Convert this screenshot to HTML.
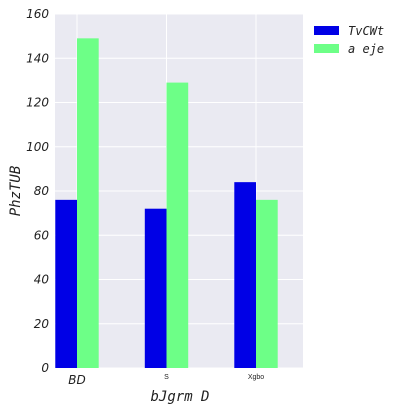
<!DOCTYPE html>
<html><head><meta charset="utf-8"><style>
body{margin:0;background:#fff}
svg{display:block}
.tk{font-family:"DejaVu Sans",sans-serif;font-style:italic;font-size:12px;fill:#222}
.mono{font-family:"DejaVu Sans Mono","Liberation Mono",monospace;font-style:italic;fill:#222}
</style></head><body>
<svg id="c" width="413" height="413">
<rect x="55" y="14" width="248" height="354" fill="#eaeaf2"/>
<g id="grid"></g><g id="bars"></g><g id="ticks"></g>
<text class="mono" x="180" y="401" font-size="14" text-anchor="middle">bJgrm D</text>
<text class="mono" x="20" y="191" font-size="14" text-anchor="middle" transform="rotate(-90 20 191)">PhzTUB</text>
<g>
<rect x="314" y="26" width="25" height="9" fill="#0000e6"/>
<text class="mono" x="348" y="35" font-size="12">TvCWt</text>
<rect x="314" y="44" width="25" height="9" fill="#6dff87"/>
<text class="mono" x="348" y="53" font-size="12">a eje</text>
</g>
</svg>
<script>
const categories=["BD","S","Xgbo"];
const seriesA=[76,72,84];
const seriesB=[149,129,76];
const yTicks=[0,20,40,60,80,100,120,140,160];
const NS="http://www.w3.org/2000/svg";
const x0=77,step=89.5,bw=21.7,yb=368,yt=14,ymax=160;
const xs=i=>x0+i*step, ys=v=>yb-(v/ymax)*(yb-yt);
function mk(t,a,p){const e=document.createElementNS(NS,t);for(const k in a)e.setAttribute(k,a[k]);p.appendChild(e);return e;}
const grid=document.getElementById('grid'),bars=document.getElementById('bars'),ticks=document.getElementById('ticks');
yTicks.forEach(v=>{
 const l=mk('line',{x1:55,x2:303,y1:ys(v),y2:ys(v),stroke:'#fff','stroke-width':1},grid);
 
 
 const t=mk('text',{x:49,y:ys(v)+4,'text-anchor':'end',class:'tk'},ticks);t.textContent=v;
 
 
});
categories.forEach((c,i)=>{
 const l=mk('line',{x1:xs(i),x2:xs(i),y1:yt,y2:yb,stroke:'#fff','stroke-width':1},grid);
 
 
 const a=mk('rect',{x:xs(i)-bw,y:ys(seriesA[i]),width:bw,height:yb-ys(seriesA[i]),fill:'#0000e6'},bars);
 
 
 const b=mk('rect',{x:xs(i),y:ys(seriesB[i]),width:bw,height:yb-ys(seriesB[i]),fill:'#6dff87'},bars);
 
 
 const t=mk('text',{x:xs(i),y:i==0?384:379,'text-anchor':'middle'},ticks);
 if(i==0){t.setAttribute('class','tk');}else{t.setAttribute('font-family','"Liberation Sans",sans-serif');t.setAttribute('font-size','7');t.setAttribute('fill','#222');}
 t.textContent=c;
 
 
});
</script>
</body></html>
